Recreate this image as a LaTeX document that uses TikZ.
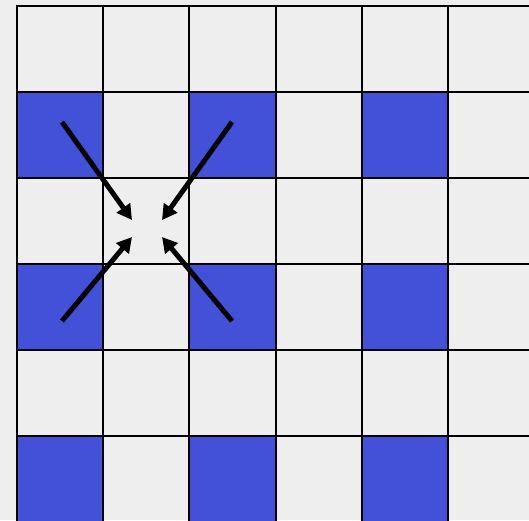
\documentclass[tikz,border=0pt]{standalone}
\usetikzlibrary{arrows.meta}
\definecolor{cellblue}{RGB}{67,80,216}
\definecolor{paper}{RGB}{238,238,238}
\tikzset{
  cell/.style={draw=black, line width=2pt},
  blue cell/.style={cell, fill=cellblue},
  push/.style={line width=5pt, -{Triangle[length=15pt, width=16pt]}}
}
\begin{document}
\begin{tikzpicture}[x=1pt, y=-1pt]
  % paper + frame
  \fill[paper] (0,0) rectangle (529,520);
  \useasboundingbox (0,0) rectangle (529,520);
  \clip (0,0) rectangle (529,520);
  % board cells (6 x 6)
  \foreach \c in {0,...,5}
    \foreach \r in {0,...,5}
      \draw[cell] ({17+86.2*\c},{6+86*\r}) rectangle ++(86.2,86);
  % blue cells
  \foreach \c in {0,2,4}
    \foreach \r in {1,3,5}
      \draw[blue cell] ({17+86.2*\c},{6+86*\r}) rectangle ++(86.2,86);
  % arrow ends
  \coordinate (nwTail) at (62,122);
  \coordinate (nwHead) at (132,220);
  \coordinate (neTail) at (232,122);
  \coordinate (neHead) at (162,220);
  \coordinate (swTail) at (62,321);
  \coordinate (swHead) at (132,237);
  \coordinate (seTail) at (232,321);
  \coordinate (seHead) at (162,237);
  % arrows
  \draw[push] (nwTail) -- (nwHead);
  \draw[push] (neTail) -- (neHead);
  \draw[push] (swTail) -- (swHead);
  \draw[push] (seTail) -- (seHead);
\end{tikzpicture}
\end{document}
